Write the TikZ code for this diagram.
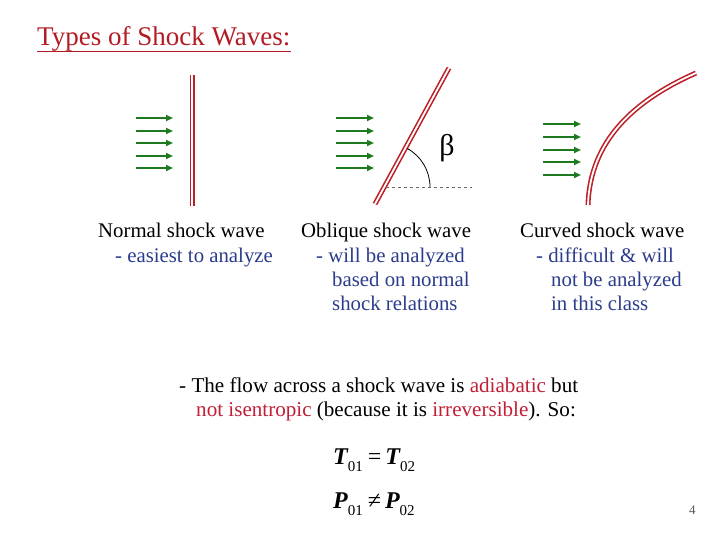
\documentclass[tikz,border=0pt]{standalone}
\usepackage{fontspec}
\setmainfont{Liberation Serif}
\usetikzlibrary{arrows.meta}
\definecolor{titlered}{HTML}{B31B22}
\definecolor{shockred}{HTML}{BC1F26}
\definecolor{flowgreen}{HTML}{1E7A1E}
\definecolor{noteblue}{HTML}{2B3C8C}
\definecolor{hlred}{HTML}{C21E36}
\begin{document}
\begin{tikzpicture}[x=1pt,y=-1pt,
  txt/.style={anchor=base west, inner sep=0pt, font=\fontsize{20.8}{24}\selectfont},
  note/.style={txt, text=noteblue},
  btxt/.style={anchor=base west, inner sep=0pt, font=\fontsize{21.1}{24}\selectfont},
  flow/.style={flowgreen, line width=1.8pt, -{Triangle[length=7pt,width=6pt]}},
  shock/.style={shockred, line width=1.6pt, double=white, double distance=1.8pt},
  eq/.style={anchor=base west, inner sep=0pt, font=\fontsize{24}{26}\selectfont}
]
\useasboundingbox (0,0) rectangle (720,540);

% title
\node[anchor=base west, inner sep=0pt, text=titlered, font=\fontsize{27}{30}\selectfont] (title) at (37,46) {Types of Shock Waves:};
\draw[titlered, line width=1.8pt] (37,51.5) -- (291,51.5);

% normal shock
\foreach \y in {118,131,143,156,168} \draw[flow] (136,\y) -- (173,\y);
\draw[shock] (192,75) -- (192,206);

% oblique shock
\foreach \y in {118,131,143,156,168} \draw[flow] (336,\y) -- (374,\y);
\draw[shock] (375,204) -- (449,68);
\coordinate (vtx) at (386,187);
\draw[gray!80!black, dashed, line width=0.6pt] (vtx) -- (472,187);
\draw[black, line width=0.8pt] (430,187) arc[start angle=0, end angle=61, radius=44pt];
\node[font=\fontsize{30}{30}\selectfont, inner sep=0pt] (beta) at (447,148) {β};

% curved shock
\foreach \y in {124,137,150,162,175} \draw[flow] (543,\y) -- (581,\y);
\draw[shock] (588,205) .. controls (590,140) and (635,100) .. (696,73);

% labels
\node[txt] (n1) at (98,237) {Normal shock wave};
\node[note] (n2) at (115,262) {- easiest to analyze};

\node[txt] (o1) at (301,237) {Oblique shock wave};
\node[note] (o2) at (316,262) {- will be analyzed};
\node[note] (o3) at (332,286) {based on normal};
\node[note] (o4) at (332,310) {shock relations};

\node[txt] (c1) at (520,237) {Curved shock wave};
\node[note] (c2) at (536,262) {- difficult \& will};
\node[note] (c3) at (551,286) {not be analyzed};
\node[note] (c4) at (551,310) {in this class};

% bottom text
\node[btxt] (b1) at (179,392) {- The flow across a shock wave is \textcolor{hlred}{adiabatic} but};
\node[btxt] (b2) at (196,416) {\textcolor{hlred}{not isentropic} (because it is \textcolor{hlred}{irreversible}). So:};

% equations
\node[eq] (e1) at (333,464) {{\bfseries\itshape T}\raisebox{-7pt}{\fontsize{15}{15}\selectfont 01}\hspace{5pt}=\hspace{4pt}{\bfseries\itshape T}\raisebox{-7pt}{\fontsize{15}{15}\selectfont 02}};
\node[eq] (e2) at (333,508) {{\bfseries\itshape P}\raisebox{-7pt}{\fontsize{15}{15}\selectfont 01}\hspace{5pt}≠\hspace{4pt}{\bfseries\itshape P}\raisebox{-7pt}{\fontsize{15}{15}\selectfont 02}};

% page number
\node[anchor=base west, inner sep=0pt, text=gray!70!black, font=\fontsize{13}{14}\selectfont] (pg) at (689,514) {4};
\end{tikzpicture}
\end{document}
